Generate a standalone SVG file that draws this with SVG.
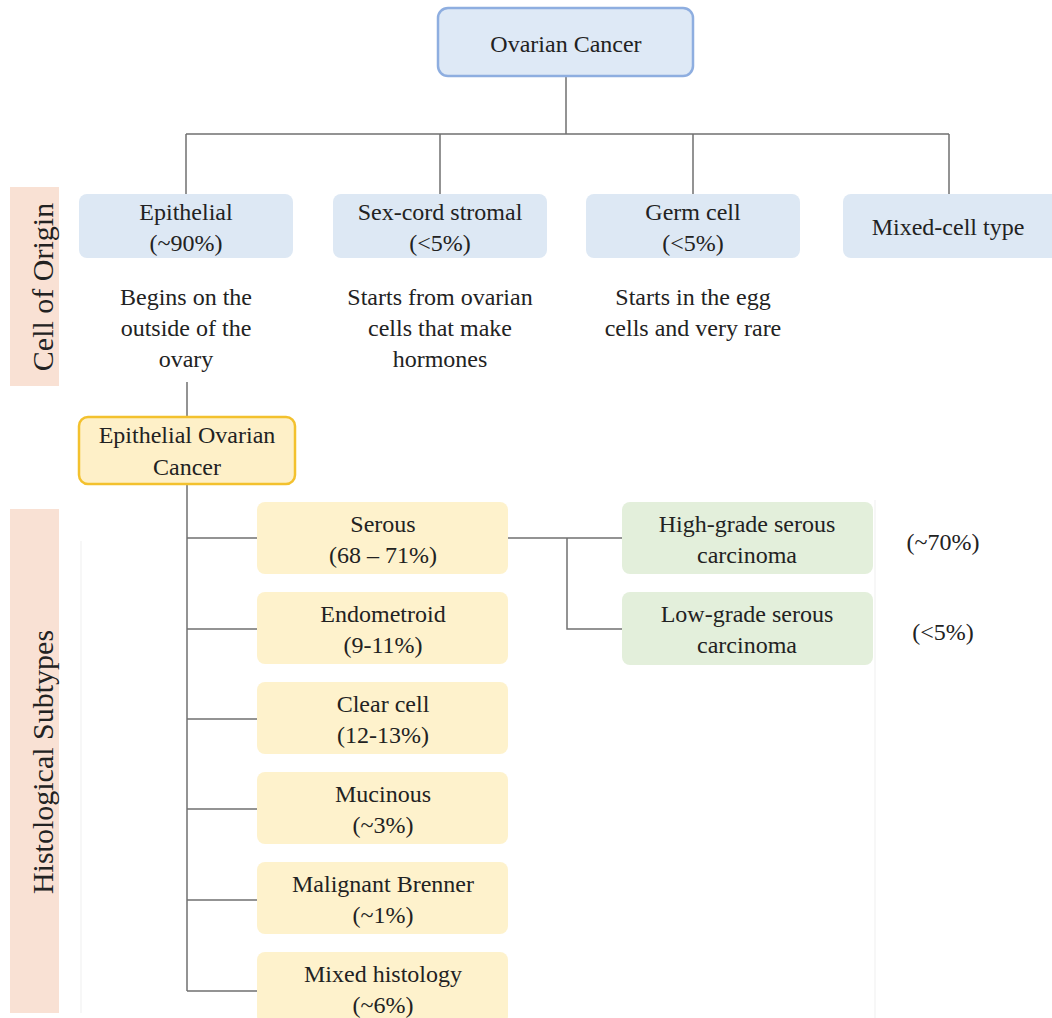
<svg xmlns="http://www.w3.org/2000/svg" width="1052" height="1018" viewBox="0 0 1052 1018">
<style>
text{font-family:"Liberation Serif","Times New Roman",serif;font-size:24px;fill:#222;text-anchor:middle}
.side{font-size:30px}
.blue{fill:#dde8f4}
.top{fill:#dee9f6;stroke:#8eaee0;stroke-width:2.5}
.yel{fill:#fef2cc}
.eoc{fill:#fef0c8;stroke:#f3c12e;stroke-width:2.5}
.grn{fill:#e3efdb}
.peach{fill:#f9e1d4}
.con{fill:none;stroke:#707070;stroke-width:1.5}
.page{stroke:#efefef;stroke-width:1;fill:none}
</style>
<rect width="1052" height="1018" fill="#ffffff"/>
<g id="page-lines">
<line class="page" x1="81" y1="541" x2="81" y2="1013"/>
<line class="page" x1="875" y1="500" x2="875" y2="1018"/>
</g>
<g id="label-cell-of-origin">
<rect class="peach" x="10" y="187" width="49" height="199"/>
<text class="side" transform="translate(53,287) rotate(-90)">Cell of Origin</text>
</g>
<g id="label-histological-subtypes">
<rect class="peach" x="10" y="509" width="49" height="504"/>
<text class="side" transform="translate(53,762) rotate(-90)">Histological Subtypes</text>
</g>
<g id="connectors">
<path class="con" d="M566 76V134M186 134H949M186 134V194M440 134V194M693 134V194M949 134V194"/>
<path class="con" d="M187 382V417M187 484V991M187 538H257M187 629H257M187 719H257M187 809H257M187 900H257M187 991H257"/>
<path class="con" d="M508 538H622M567 538V629H622"/>
</g>
<g id="node-ovarian-cancer">
<rect class="top" x="438" y="8" width="255" height="68" rx="10"/>
<text x="566" y="52">Ovarian Cancer</text>
</g>
<g id="node-epithelial">
<rect class="blue" x="79" y="194" width="214" height="64" rx="8"/>
<text x="186" y="220">Epithelial</text>
<text x="186" y="251">(~90%)</text>
<text x="186" y="305">Begins on the</text>
<text x="186" y="336">outside of the</text>
<text x="186" y="367">ovary</text>
</g>
<g id="node-sex-cord">
<rect class="blue" x="333" y="194" width="214" height="64" rx="8"/>
<text x="440" y="220">Sex-cord stromal</text>
<text x="440" y="251">(&lt;5%)</text>
<text x="440" y="305">Starts from ovarian</text>
<text x="440" y="336">cells that make</text>
<text x="440" y="367">hormones</text>
</g>
<g id="node-germ-cell">
<rect class="blue" x="586" y="194" width="214" height="64" rx="8"/>
<text x="693" y="220">Germ cell</text>
<text x="693" y="251">(&lt;5%)</text>
<text x="693" y="305">Starts in the egg</text>
<text x="693" y="336">cells and very rare</text>
</g>
<g id="node-mixed-cell">
<rect class="blue" x="843" y="194" width="220" height="64" rx="8"/>
<text x="948" y="235">Mixed-cell type</text>
</g>
<g id="node-eoc">
<rect class="eoc" x="79" y="417" width="216" height="67" rx="9"/>
<text x="187" y="443">Epithelial Ovarian</text>
<text x="187" y="475">Cancer</text>
</g>
<g id="node-serous">
<rect class="yel" x="257" y="502" width="251" height="72" rx="8"/>
<text x="383" y="532">Serous</text>
<text x="383" y="563">(68 – 71%)</text>
</g>
<g id="node-endometroid">
<rect class="yel" x="257" y="592" width="251" height="72" rx="8"/>
<text x="383" y="622">Endometroid</text>
<text x="383" y="653">(9-11%)</text>
</g>
<g id="node-clear-cell">
<rect class="yel" x="257" y="682" width="251" height="72" rx="8"/>
<text x="383" y="712">Clear cell</text>
<text x="383" y="743">(12-13%)</text>
</g>
<g id="node-mucinous">
<rect class="yel" x="257" y="772" width="251" height="72" rx="8"/>
<text x="383" y="802">Mucinous</text>
<text x="383" y="833">(~3%)</text>
</g>
<g id="node-brenner">
<rect class="yel" x="257" y="862" width="251" height="72" rx="8"/>
<text x="383" y="892">Malignant Brenner</text>
<text x="383" y="923">(~1%)</text>
</g>
<g id="node-mixed-histology">
<rect class="yel" x="257" y="952" width="251" height="72" rx="8"/>
<text x="383" y="982">Mixed histology</text>
<text x="383" y="1013">(~6%)</text>
</g>
<g id="node-high-grade">
<rect class="grn" x="622" y="502" width="251" height="72" rx="8"/>
<text x="747" y="532">High-grade serous</text>
<text x="747" y="563">carcinoma</text>
<text x="943" y="550">(~70%)</text>
</g>
<g id="node-low-grade">
<rect class="grn" x="622" y="592" width="251" height="73" rx="8"/>
<text x="747" y="622">Low-grade serous</text>
<text x="747" y="653">carcinoma</text>
<text x="943" y="640">(&lt;5%)</text>
</g>
</svg>
